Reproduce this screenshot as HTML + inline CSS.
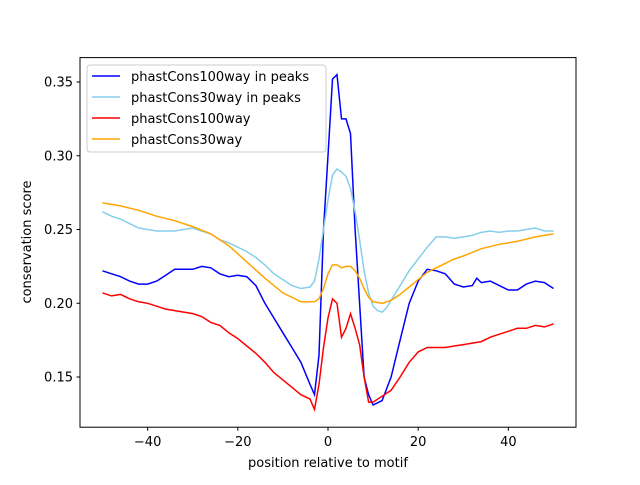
<!DOCTYPE html>
<html><head><meta charset="utf-8"><style>
body{margin:0;background:#fff}
svg{font-family:"DejaVu Sans","Liberation Sans",sans-serif}
</style></head><body>
<svg id="chart" width="640" height="480">
<rect width="640" height="480" fill="#fff"/>
<g id="plot"></g>
<rect x="80" y="57.6" width="496" height="369.6" fill="none" stroke="#000" stroke-width="1"/>
<g id="axes"></g>
<text x="328" y="467" font-size="13" text-anchor="middle">position relative to motif</text>
<text transform="translate(31,242) rotate(-90)" font-size="13" text-anchor="middle">conservation score</text>
<g>
<rect x="87" y="65" width="239" height="87" rx="3" fill="#fff" fill-opacity="0.8" stroke="#ccc"/>
<line x1="92" x2="120" y1="76" y2="76" stroke="#0000ff" stroke-width="1.5"/>
<text x="131" y="81" font-size="13">phastCons100way in peaks</text>
<line x1="92" x2="120" y1="97" y2="97" stroke="#87ceeb" stroke-width="1.5"/>
<text x="131" y="102" font-size="13">phastCons30way in peaks</text>
<line x1="92" x2="120" y1="118" y2="118" stroke="#ff0000" stroke-width="1.5"/>
<text x="131" y="123" font-size="13">phastCons100way</text>
<line x1="92" x2="120" y1="139" y2="139" stroke="#ffa500" stroke-width="1.5"/>
<text x="131" y="144" font-size="13">phastCons30way</text>
</g>
</svg>
<script>
const xTicks=[-40,-20,0,20,40];
const yTicks=[0.15,0.20,0.25,0.30,0.35];
const xBlue=[-50,-48,-46,-44,-42,-40,-38,-36,-34,-32,-30,-28,-26,-24,-22,-20,-18,-16,-14,-12,-10,-8,-6,-4,-3,-2,-1,0,1,2,3,4,5,6,7,8,9,10,12,14,16,18,20,22,24,26,28,30,32,33,34,36,38,40,42,44,46,48,50];
const yBlue=[0.222,0.220,0.218,0.215,0.213,0.213,0.215,0.219,0.223,0.223,0.223,0.225,0.224,0.220,0.218,0.219,0.218,0.212,0.200,0.190,0.180,0.170,0.160,0.145,0.138,0.165,0.250,0.300,0.352,0.355,0.325,0.325,0.315,0.250,0.200,0.150,0.138,0.131,0.134,0.150,0.175,0.200,0.215,0.223,0.222,0.220,0.213,0.211,0.212,0.217,0.214,0.215,0.212,0.209,0.209,0.213,0.215,0.214,0.210];
const xCyan=[-50,-48,-46,-44,-42,-40,-38,-36,-34,-32,-30,-28,-26,-24,-22,-20,-18,-16,-14,-12,-10,-8,-6,-4,-3,-2,-1,0,1,2,3,4,5,6,7,8,9,10,11,12,13,14,16,18,20,22,24,26,28,30,32,34,36,38,40,42,44,46,48,50];
const yCyan=[0.262,0.259,0.257,0.254,0.251,0.250,0.249,0.249,0.249,0.250,0.251,0.249,0.247,0.243,0.241,0.238,0.235,0.231,0.226,0.220,0.216,0.212,0.210,0.211,0.215,0.230,0.250,0.270,0.287,0.291,0.289,0.286,0.278,0.262,0.243,0.222,0.207,0.198,0.195,0.194,0.197,0.202,0.212,0.222,0.230,0.238,0.245,0.245,0.244,0.245,0.246,0.248,0.249,0.248,0.249,0.249,0.250,0.251,0.249,0.249];
const xRed=[-50,-48,-46,-44,-42,-40,-38,-36,-34,-32,-30,-28,-26,-24,-22,-20,-18,-16,-14,-12,-10,-8,-6,-4,-3,-2,-1,0,1,2,3,4,5,6,7,8,9,10,12,14,16,18,20,22,24,26,28,30,32,34,36,38,40,42,44,46,48,50];
const yRed=[0.207,0.205,0.206,0.203,0.201,0.200,0.198,0.196,0.195,0.194,0.193,0.191,0.187,0.185,0.180,0.176,0.171,0.166,0.160,0.153,0.148,0.143,0.138,0.135,0.128,0.145,0.170,0.190,0.203,0.200,0.177,0.183,0.193,0.183,0.172,0.150,0.133,0.133,0.137,0.141,0.150,0.160,0.167,0.170,0.170,0.170,0.171,0.172,0.173,0.174,0.177,0.179,0.181,0.183,0.183,0.185,0.184,0.186];
const xOrange=[-50,-46,-42,-38,-34,-30,-26,-22,-18,-14,-10,-6,-3,-2,-1,0,1,2,3,4,5,6,7,8,9,10,12,14,16,18,20,22,24,26,28,30,34,38,42,46,50];
const yOrange=[0.268,0.266,0.263,0.259,0.256,0.252,0.247,0.239,0.228,0.217,0.207,0.201,0.201,0.203,0.210,0.220,0.226,0.226,0.224,0.225,0.225,0.222,0.217,0.210,0.204,0.201,0.200,0.202,0.206,0.211,0.216,0.221,0.224,0.227,0.230,0.232,0.237,0.240,0.242,0.245,0.247];
const NS='http://www.w3.org/2000/svg';
const sx=v=>80+(v+55)/110*496;
const sy=v=>377-(v-0.15)/0.05*73.75;
const plot=document.getElementById('plot'),axes=document.getElementById('axes');
function line(xs,ys,color,name){
  const p=document.createElementNS(NS,'polyline');
  p.setAttribute('points',xs.map((x,i)=>sx(x).toFixed(1)+','+sy(ys[i]).toFixed(1)).join(' '));
  p.setAttribute('fill','none');p.setAttribute('stroke',color);p.setAttribute('stroke-width','1.5');
  
  
  plot.appendChild(p);
}
line(xBlue,yBlue,'#0000ff','series-phastcons100way-in-peaks');
line(xCyan,yCyan,'#87ceeb','series-phastcons30way-in-peaks');
line(xRed,yRed,'#ff0000','series-phastcons100way');
line(xOrange,yOrange,'#ffa500','series-phastcons30way');
xTicks.forEach(t=>{
  const l=document.createElementNS(NS,'line');
  l.setAttribute('x1',sx(t));l.setAttribute('x2',sx(t));l.setAttribute('y1',427.2);l.setAttribute('y2',430.7);l.setAttribute('stroke','#000');
  
  
  axes.appendChild(l);
  const tx=document.createElementNS(NS,'text');
  tx.setAttribute('x',sx(t));tx.setAttribute('y',446);tx.setAttribute('font-size','13');tx.setAttribute('text-anchor','middle');
  tx.textContent=t<0?'\u2212'+(-t):String(t);
  
  
  axes.appendChild(tx);
});
yTicks.forEach(t=>{
  const l=document.createElementNS(NS,'line');
  l.setAttribute('x1',76.5);l.setAttribute('x2',80);l.setAttribute('y1',sy(t));l.setAttribute('y2',sy(t));l.setAttribute('stroke','#000');
  
  
  axes.appendChild(l);
  const tx=document.createElementNS(NS,'text');
  tx.setAttribute('x',73);tx.setAttribute('y',sy(t)+4.5);tx.setAttribute('font-size','13');tx.setAttribute('text-anchor','end');
  tx.textContent=t.toFixed(2);
  
  
  axes.appendChild(tx);
});
</script>
</body></html>
